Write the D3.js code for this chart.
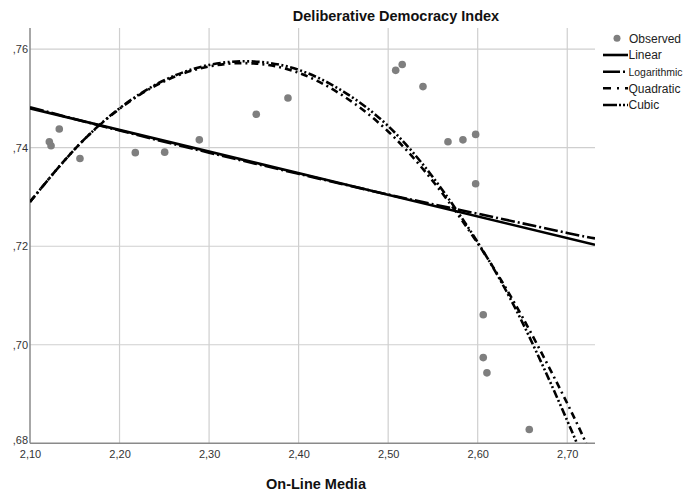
<!DOCTYPE html>
<html>
<head>
<meta charset="utf-8">
<script src="https://cdn.jsdelivr.net/npm/d3@7"></script>
<style>
  body { margin: 0; background: #fff; }
  text { font-family: "Liberation Sans", Arial, sans-serif; }
</style>
</head>
<body>
<div id="chart"></div>
<script>
const obsX = [2.1216, 2.1235, 2.1327, 2.1558, 2.2176, 2.2504, 2.2891, 2.3527, 2.3881,
              2.5084, 2.5157, 2.5389, 2.5668, 2.5835, 2.5977, 2.5977, 2.6062, 2.6062, 2.6103, 2.6576];
const obsY = [0.7412, 0.7404, 0.7438, 0.7378, 0.7390, 0.7391, 0.7416, 0.7468, 0.7501,
              0.7557, 0.7569, 0.7524, 0.7412, 0.7416, 0.7427, 0.7327, 0.7061, 0.6974, 0.6943, 0.6828];

// Curvas ajustadas (puntos leidos sobre cada curva)
const linX = [2.10, 2.731];
const linY = [0.7480, 0.7203];
const logX = [2.10, 2.20, 2.30, 2.40, 2.50, 2.60, 2.70, 2.731];
const logY = [0.7482, 0.7435, 0.7390, 0.7347, 0.7305, 0.7266, 0.7227, 0.7216];
const quadX = [2.10, 2.15, 2.20, 2.25, 2.30, 2.35, 2.40, 2.45, 2.50, 2.55, 2.60, 2.65, 2.70, 2.721];
const quadY = [0.7290, 0.7397, 0.7479, 0.7535, 0.7565, 0.7571, 0.7552, 0.7505, 0.7433, 0.7332, 0.7206, 0.7056, 0.6881, 0.6800];
const cubX = [2.10, 2.15, 2.20, 2.25, 2.30, 2.35, 2.40, 2.45, 2.50, 2.55, 2.60, 2.65, 2.70, 2.7105];
const cubY = [0.7290, 0.7397, 0.7480, 0.7537, 0.7568, 0.7575, 0.7558, 0.7514, 0.7444, 0.7340, 0.7208, 0.7045, 0.6846, 0.6800];

// Ticks
const xTicks = [2.10, 2.20, 2.30, 2.40, 2.50, 2.60, 2.70];
const yTicks = [0.68, 0.70, 0.72, 0.74, 0.76];
const legendNames = ["Observed", "Linear", "Logarithmic", "Quadratic", "Cubic"];

const W = 688, H = 497;
const pLeft = 30, pRight = 595, pTop = 28, pBottom = 443.3;

const svg = d3.select("#chart").append("svg")
    .attr("width", W).attr("height", H);

const xScale = d3.scaleLinear().domain([2.10, 2.731]).range([pLeft, pRight]);
const yScale = d3.scaleLinear().domain([0.68, 0.7643]).range([pBottom, pTop]);

// Rejilla
svg.append("g").selectAll("line").data(yTicks.slice(1)).enter().append("line")
    .attr("x1", pLeft).attr("x2", pRight)
    .attr("y1", d => yScale(d)).attr("y2", d => yScale(d))
    .attr("stroke", "#cfcfcf").attr("stroke-width", 1.2);
svg.append("g").selectAll("line").data(xTicks.slice(1)).enter().append("line")
    .attr("x1", d => xScale(d)).attr("x2", d => xScale(d))
    .attr("y1", pTop).attr("y2", pBottom)
    .attr("stroke", "#cfcfcf").attr("stroke-width", 1.2);

// Ejes
const xAxis = svg.append("g").attr("transform", `translate(0,${pBottom})`)
    .call(d3.axisBottom(xScale).tickValues(xTicks).tickSize(0).tickPadding(7)
        .tickFormat(d => d.toFixed(2).replace(".", ",")));
xAxis.select(".domain").remove();
xAxis.selectAll("text").attr("font-size", 11).attr("fill", "#333")
    .style("font-family", "'Liberation Sans', Arial, sans-serif");

const yAxis = svg.append("g").attr("transform", `translate(${pLeft - 2},0)`)
    .call(d3.axisLeft(yScale).tickValues(yTicks).tickSize(0).tickPadding(0)
        .tickFormat(d => d.toFixed(2).replace("0.", ",")));
yAxis.select(".domain").remove();
yAxis.selectAll("text").attr("font-size", 11).attr("fill", "#333")
    .style("font-family", "'Liberation Sans', Arial, sans-serif")
    .attr("dy", d => d === 0.68 ? "0" : "0.32em");

svg.append("line").attr("x1", pLeft).attr("x2", pLeft).attr("y1", pTop).attr("y2", pBottom)
    .attr("stroke", "#8a8a8a").attr("stroke-width", 1.5);
svg.append("line").attr("x1", pLeft).attr("x2", pRight).attr("y1", pBottom).attr("y2", pBottom)
    .attr("stroke", "#8a8a8a").attr("stroke-width", 1.5);

// Recorte del area del grafico
svg.append("clipPath").attr("id", "clip").append("rect")
    .attr("x", pLeft).attr("y", pTop).attr("width", pRight - pLeft).attr("height", pBottom - pTop);

const plot = svg.append("g").attr("clip-path", "url(#clip)");

// Puntos
plot.selectAll("circle").data(obsX.map((x, i) => ({x: x, y: obsY[i]}))).enter()
    .append("circle")
    .attr("cx", d => xScale(d.x)).attr("cy", d => yScale(d.y))
    .attr("r", 3.8).attr("fill", "#7f7f7f");

const line = d3.line().x(d => xScale(d.x)).y(d => yScale(d.y)).curve(d3.curveNatural);
const toPts = (xs, ys) => xs.map((x, i) => ({x: x, y: ys[i]}));

const series = [
    {pts: toPts(linX, linY), dash: null},
    {pts: toPts(logX, logY), dash: "14,3,2,3"},
    {pts: toPts(quadX, quadY), dash: "7,4,2,4"},
    {pts: toPts(cubX, cubY), dash: "8,2.5,2,2.5,2,2.5"}
];

series.forEach(s => {
    plot.append("path")
        .attr("d", line(s.pts))
        .attr("fill", "none")
        .attr("stroke", "#000")
        .attr("stroke-width", 2.6)
        .attr("stroke-dasharray", s.dash);
});

// Titulos
svg.append("text").attr("x", 396).attr("y", 21).attr("text-anchor", "middle")
    .attr("font-size", 14.5).attr("font-weight", "bold").attr("fill", "#111")
    .text("Deliberative Democracy Index");
svg.append("text").attr("x", 316).attr("y", 489).attr("text-anchor", "middle")
    .attr("font-size", 14.5).attr("font-weight", "bold").attr("fill", "#111")
    .text("On-Line Media");

// Leyenda
const legend = svg.append("g");
const rowY = [38.3, 55, 71.7, 88.3, 105];
const legDash = [null, null, "17,3,2,3", "8,6,2,6", "14,2,2,2,2,2"];
legendNames.forEach((name, i) => {
    if (i === 0) {
        legend.append("circle").attr("cx", 617).attr("cy", rowY[i]).attr("r", 3.5).attr("fill", "#7f7f7f");
    } else {
        legend.append("line").attr("x1", 603).attr("x2", 628)
            .attr("y1", rowY[i]).attr("y2", rowY[i])
            .attr("stroke", "#000").attr("stroke-width", 2.6)
            .attr("stroke-dasharray", legDash[i]);
    }
    const t = legend.append("text").attr("x", i === 0 ? 629 : 628.5).attr("y", rowY[i] + 4.3)
        .attr("font-size", i === 2 ? 11.5 : 12).attr("fill", "#222").text(name);
    // se comprime un poco el texto largo para que quepa en el borde derecho
    if (name === "Logarithmic") t.attr("textLength", 54).attr("lengthAdjust", "spacingAndGlyphs");
});
</script>
</body>
</html>
